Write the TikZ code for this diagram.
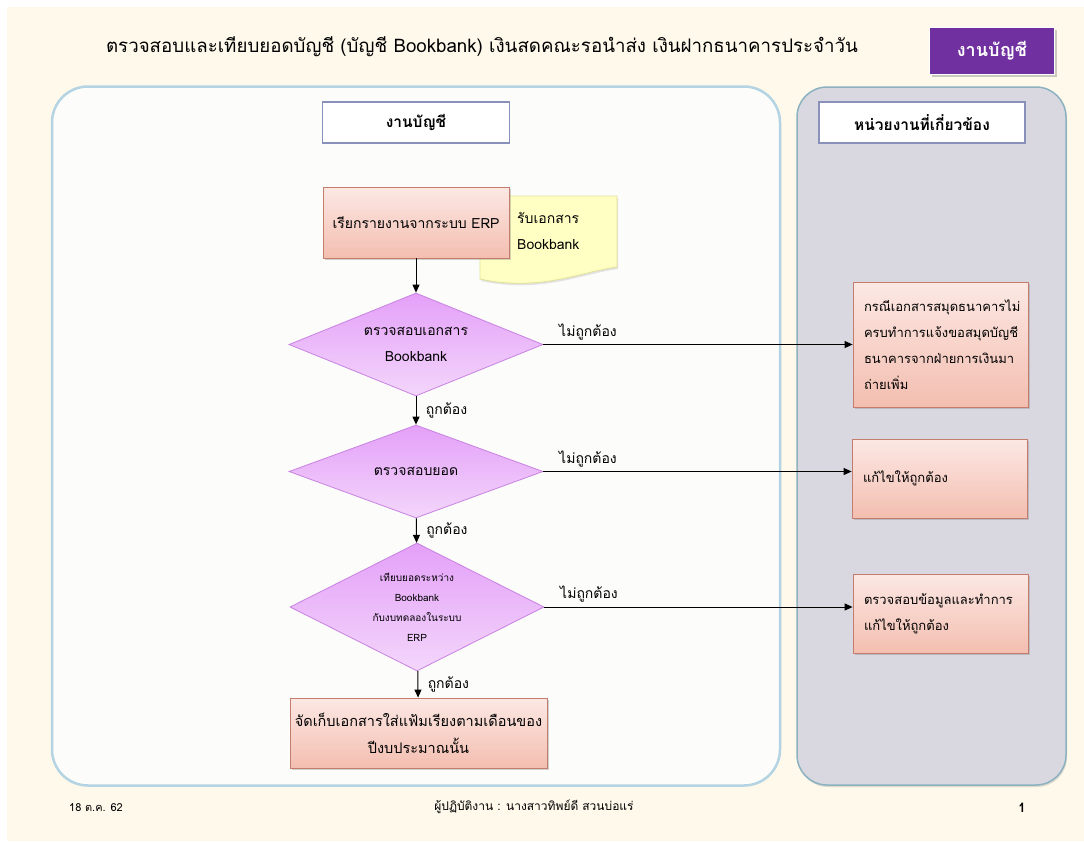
\documentclass[tikz,border=0pt]{standalone}
\usepackage{fontspec}
\newfontfamily\thai[Script=Thai]{Loma}
\usetikzlibrary{positioning,shapes.geometric,shadows,arrows.meta}
\definecolor{cream}{RGB}{254,249,235}
\definecolor{laneedge}{RGB}{180,212,228}
\definecolor{lanefill}{RGB}{252,252,250}
\definecolor{greylane}{RGB}{217,216,225}
\definecolor{greyedge}{RGB}{140,178,192}
\definecolor{headedge}{RGB}{137,144,185}
\definecolor{boxtop}{RGB}{252,232,228}
\definecolor{boxbot}{RGB}{243,190,176}
\definecolor{boxedge}{RGB}{196,124,108}
\definecolor{diatop}{RGB}{228,160,248}
\definecolor{diabot}{RGB}{243,214,251}
\definecolor{diaedge}{RGB}{200,130,225}
\definecolor{notefill}{RGB}{255,255,196}
\definecolor{noteedge}{RGB}{224,224,150}
\definecolor{tagfill}{RGB}{112,48,160}
\begin{document}
\begin{tikzpicture}[x=1pt, y=-1pt,
font=\thai\fontsize{14}{26}\selectfont,
lane/.style={draw=laneedge, line width=2.5pt, fill=lanefill, rounded corners=36pt, inner sep=0pt},
greybox/.style={draw=greyedge, line width=1.5pt, fill=greylane, rounded corners=30pt, inner sep=0pt,
  drop shadow={opacity=0.25, shadow xshift=1pt, shadow yshift=-2pt}},
head/.style={draw=headedge, line width=1.2pt, fill=white, minimum height=41pt,
  font=\thai\bfseries\fontsize{15.5}{18}\selectfont},
box/.style={draw=boxedge, line width=0.8pt, top color=boxtop, bottom color=boxbot,
  drop shadow={opacity=0.35, shadow xshift=2pt, shadow yshift=-2pt}},
sidebox/.style={box, minimum width=175pt, text width=153pt, inner xsep=11pt, align=left,
  font=\thai\fontsize{13}{26}\selectfont},
dia/.style={diamond, draw=diaedge, line width=0.8pt, top color=diatop, bottom color=diabot,
  minimum width=254pt, inner sep=0pt},
flow/.style={-{Triangle[length=8pt,width=7pt]}, line width=1pt},
yes/.style={right, xshift=6pt},
no/.style={pos=0, anchor=south west, xshift=12pt, yshift=1pt}
]
\useasboundingbox (0,0) rectangle (1084,841);
\fill[cream] (7,7) rectangle (1084,841);

% title and tag
\node (title) at (482,47) {\fontsize{18.7}{22}\selectfont ตรวจสอบและเทียบยอดบัญชี (บัญชี Bookbank) เงินสดคณะรอนำส่ง เงินฝากธนาคารประจำวัน};
\node[fill=tagfill, draw=white, line width=1pt, minimum width=125pt, minimum height=47pt, text=white,
  font=\thai\bfseries\fontsize{18}{21}\selectfont,
  drop shadow={opacity=0.4, shadow xshift=2pt, shadow yshift=-2pt}] (tag) at (992,51) {งานบัญชี};

% lanes
\node[lane, minimum width=728pt, minimum height=699pt] (laneL) at (416,436) {};
\node[greybox, minimum width=269pt, minimum height=698pt] (laneR) at (931.5,436) {};
\node[head, minimum width=187pt] (headL) at (416,122.5) {งานบัญชี};
\node[head, minimum width=206pt] (headR) at (922,122.5) {หน่วยงานที่เกี่ยวข้อง};

% document note behind the first step
\draw[noteedge, fill=notefill, line width=0.8pt, drop shadow={opacity=0.2, shadow xshift=1pt, shadow yshift=-2pt}]
  (480,196) -- (617,196) -- (617,267) .. controls (580,272) and (540,292) .. (480,279) -- cycle;
\node[anchor=west, align=left, inner sep=0pt] (doc) at (517,230.5) {รับเอกสาร\\Bookbank};

% main steps
\node[box, minimum width=186pt, minimum height=71pt] (report) at (416,222.5) {เรียกรายงานจากระบบ ERP};
\node[dia, minimum height=103pt] (chkdoc) at (416,344.5) {};
\node[align=center] (chkdoct) at (chkdoc) {ตรวจสอบเอกสาร\\Bookbank};
\node[dia, minimum height=93pt] (chkbal) at (416,471.5) {};
\node (chkbalt) at (chkbal) {ตรวจสอบยอด};
\node[dia, minimum height=128pt] (recon) at (417,607) {};
\node[align=center, font=\thai\fontsize{10}{20}\selectfont] (recont) at (recon) {เทียบยอดระหว่าง\\Bookbank\\กับงบทดลองในระบบ\\ERP};
\node[box, minimum width=257pt, minimum height=70pt, align=center, font=\thai\fontsize{14.5}{27}\selectfont] (filing) at (418.5,733) {จัดเก็บเอกสารใส่แฟ้มเรียงตามเดือนของ\\ปีงบประมาณนั้น};

% related units
\node[sidebox, minimum height=125pt] (fixdoc) at (940.5,344.5) {กรณีเอกสารสมุดธนาคารไม่\\ครบทำการแจ้งขอสมุดบัญชี\\ธนาคารจากฝ่ายการเงินมา\\ถ่ายเพิ่ม};
\node[sidebox, minimum height=79pt] (fixbal) at (939.5,478.5) {แก้ไขให้ถูกต้อง};
\node[sidebox, minimum height=79pt] (fixdata) at (940.5,613.5) {ตรวจสอบข้อมูลและทำการ\\แก้ไขให้ถูกต้อง};

% connectors
\draw[flow] (report) -- (chkdoc);
\draw[flow] (chkdoc) -- node[yes] {ถูกต้อง} (chkbal);
\draw[flow] (chkbal) -- node[yes] {ถูกต้อง} (recon);
\draw[flow] (recon) -- node[yes] {ถูกต้อง} (filing);
\draw[flow] (chkdoc.east) -- node[no] {ไม่ถูกต้อง} (chkdoc.east -| fixdoc.west);
\draw[flow] (chkbal.east) -- node[no] {ไม่ถูกต้อง} (chkbal.east -| fixbal.west);
\draw[flow] (recon.east) -- node[no] {ไม่ถูกต้อง} (recon.east -| fixdata.west);

% footer
\node (date) at (96,808) {\fontsize{11}{13}\selectfont 18 ต.ค. 62};
\node (staff) at (534,807) {\fontsize{12}{14}\selectfont ผู้ปฏิบัติงาน : นางสาวทิพย์ดี สวนบ่อแร่};
\node (page) at (1022,808) {\fontsize{13}{15}\selectfont\bfseries 1};
\end{tikzpicture}
\end{document}
